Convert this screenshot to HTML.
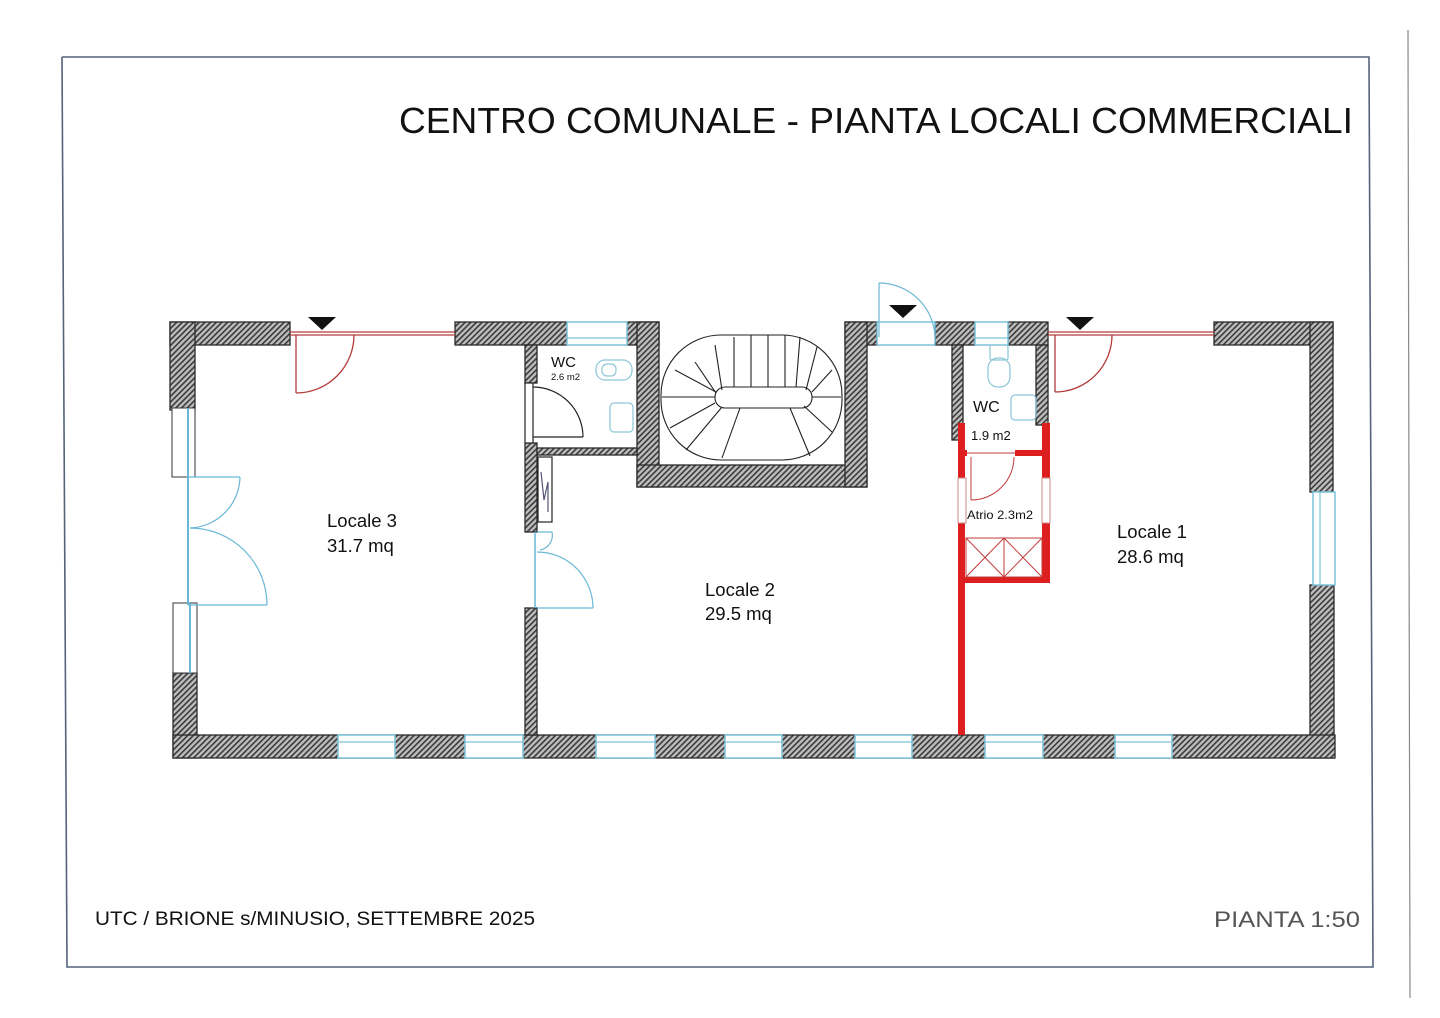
<!DOCTYPE html>
<html><head><meta charset="utf-8"><style>html,body{margin:0;padding:0;background:#fff;}svg{display:block}</style></head>
<body>
<svg width="1440" height="1018" viewBox="0 0 1440 1018" xmlns="http://www.w3.org/2000/svg" font-family="Liberation Sans, sans-serif">
<defs>
<pattern id="h" width="4" height="4" patternUnits="userSpaceOnUse" patternTransform="rotate(45)">
<rect width="4" height="4" fill="#bdbdbd"/><rect width="1.6" height="4" fill="#3a3a3a"/>
</pattern>
</defs>
<rect width="1440" height="1018" fill="#fff"/>
<!-- frame -->
<polyline points="62,57 1369,57 1373,967 67,967 62,57" fill="none" stroke="#55627a" stroke-width="1.6"/>
<line x1="1408" y1="30" x2="1410" y2="998" stroke="#888" stroke-width="1.2"/>
<text x="399" y="133" font-size="36.5" fill="#111" textLength="954" lengthAdjust="spacingAndGlyphs">CENTRO COMUNALE - PIANTA LOCALI COMMERCIALI</text>

<g fill="url(#h)" stroke="#2a2a2a" stroke-width="1.3">
<!-- top walls -->
<rect x="170" y="322" width="120" height="23"/>
<rect x="455" y="322" width="112" height="23"/>
<rect x="627" y="322" width="32" height="23"/>
<rect x="845" y="322" width="32" height="23"/>
<rect x="935" y="322" width="40" height="23"/>
<rect x="1008" y="322" width="40" height="23"/>
<rect x="1214" y="322" width="119" height="23"/>
<!-- left wall -->
<rect x="170" y="322" width="25" height="88"/>
<rect x="173" y="673" width="24" height="85"/>
<!-- right wall -->
<rect x="1310" y="322" width="23" height="170"/>
<rect x="1310" y="585" width="24" height="173"/>
<!-- bottom wall -->
<rect x="173" y="735" width="1162" height="23"/>
<!-- stair enclosure -->
<rect x="637" y="322" width="22" height="165"/>
<rect x="637" y="465" width="230" height="22"/>
<rect x="845" y="322" width="22" height="165"/>
<!-- wc left -->
<rect x="525" y="345" width="12" height="38"/>
<rect x="525" y="443" width="12" height="89"/>
<rect x="525" y="608" width="12" height="127"/>
<rect x="537" y="448" width="100" height="7"/>
<!-- wc right -->
<rect x="952" y="345" width="11" height="95"/>
<rect x="1036" y="345" width="12" height="80"/>
</g>

<!-- bottom windows -->
<g fill="#fff" stroke="#7cc3dc" stroke-width="1.5">
<rect x="338" y="735" width="57" height="23"/><rect x="465" y="735" width="58" height="23"/>
<rect x="596" y="735" width="59" height="23"/><rect x="725" y="735" width="57" height="23"/>
<rect x="855" y="735" width="57" height="23"/><rect x="985" y="735" width="58" height="23"/>
<rect x="1115" y="735" width="57" height="23"/>
<rect x="567" y="322" width="60" height="23"/><rect x="975" y="322" width="33" height="23"/>
<rect x="1313" y="492" width="22" height="93"/>
</g>
<g stroke="#7cc3dc" stroke-width="1.2">
<line x1="338" y1="742" x2="395" y2="742"/><line x1="465" y1="742" x2="523" y2="742"/>
<line x1="596" y1="742" x2="655" y2="742"/><line x1="725" y1="742" x2="782" y2="742"/>
<line x1="855" y1="742" x2="912" y2="742"/><line x1="985" y1="742" x2="1043" y2="742"/>
<line x1="1115" y1="742" x2="1172" y2="742"/>
<line x1="567" y1="338" x2="627" y2="338"/><line x1="975" y1="338" x2="1008" y2="338"/>
<line x1="1320" y1="492" x2="1320" y2="585"/>
</g>
<!-- left windows -->
<rect x="172" y="408" width="23" height="69" fill="#fff" stroke="#333" stroke-width="1"/>
<rect x="173" y="603" width="24" height="70" fill="#fff" stroke="#333" stroke-width="1"/>
<g stroke="#6bb8d6" stroke-width="2" fill="none">
<line x1="188" y1="408" x2="188" y2="477"/><line x1="190" y1="603" x2="190" y2="673"/>
<line x1="188" y1="477" x2="188" y2="605"/>
<line x1="188" y1="477" x2="240" y2="477" stroke-width="1.2"/>
<path d="M240,477 A52,52 0 0 1 190,528" stroke-width="1.2"/>
<line x1="188" y1="605" x2="267" y2="605" stroke-width="1.2"/>
<path d="M267,605 A77,77 0 0 0 190,528" stroke-width="1.2"/>
<!-- locale2 door -->
<line x1="535" y1="532" x2="535" y2="608" stroke-width="1.5"/>
<line x1="537" y1="608" x2="593" y2="608" stroke-width="1.2"/>
<path d="M593,608 A56,56 0 0 0 537,552" stroke-width="1.2"/>
<path d="M537,532 L552,532 A15,15 0 0 1 540,550" stroke-width="1.2"/>
<!-- entrance door -->
<rect x="877" y="322" width="58" height="23" fill="#fff" stroke-width="1.3"/>
<line x1="879" y1="337" x2="879" y2="283" stroke-width="1.2"/>
<path d="M879,283 A56,56 0 0 1 935,337" stroke-width="1.2"/>
</g>
<!-- red doors -->
<g stroke="#b33a3a" fill="none" stroke-width="1.3">
<line x1="290" y1="332" x2="455" y2="332"/><line x1="290" y1="335" x2="455" y2="335"/>
<line x1="1048" y1="332" x2="1214" y2="332"/><line x1="1048" y1="335" x2="1214" y2="335"/>
<line x1="296" y1="335" x2="296" y2="393"/><path d="M296,393 A58,58 0 0 0 354,335"/>
<line x1="1055" y1="335" x2="1055" y2="392"/><path d="M1055,392 A57,57 0 0 0 1112,335"/>
</g>
<g fill="#111"><polygon points="308,317 336,317 322,330"/><polygon points="1066,317 1094,317 1080,330"/><polygon points="889,305 917,305 903,318"/></g>
<!-- wc door left -->
<g stroke="#222" fill="none" stroke-width="1.2">
<line x1="533" y1="437" x2="583" y2="437"/><path d="M583,437 A50,50 0 0 0 533,387"/>
<rect x="525" y="383" width="8" height="60" fill="#fff"/>
<rect x="538" y="457" width="14" height="65" fill="#fff"/>
<polyline points="541,472 544,500 548,482 548,512" stroke="#557"/>
</g>
<!-- fixtures -->
<g stroke="#8cc6d8" fill="none" stroke-width="1.2">
<rect x="596" y="360" width="36" height="20" rx="9"/><rect x="602" y="364" width="14" height="12" rx="5"/>
<rect x="610" y="403" width="23" height="29" rx="4"/>
<rect x="990" y="345" width="18" height="15" rx="2"/><rect x="988" y="358" width="22" height="29" rx="10"/>
<rect x="1011" y="395" width="25" height="25" rx="4"/>
</g>
<!-- stairs -->
<g stroke="#222" fill="none" stroke-width="1.1">
<rect x="661" y="335" width="181" height="125" rx="60"/>
<rect x="715" y="387" width="97" height="21" rx="10"/>
<line x1="734" y1="337" x2="734" y2="387"/><line x1="751" y1="335" x2="751" y2="387"/><line x1="768" y1="335" x2="768" y2="387"/><line x1="785" y1="335" x2="785" y2="387"/><line x1="800" y1="337" x2="796" y2="387"/>
<line x1="715" y1="345" x2="722" y2="390"/><line x1="695" y1="362" x2="716" y2="393"/><line x1="662" y1="397" x2="715" y2="397"/><line x1="675" y1="370" x2="716" y2="392"/>
<line x1="812" y1="397" x2="841" y2="397"/><line x1="812" y1="392" x2="832" y2="370"/><line x1="806" y1="390" x2="817" y2="347"/>
<line x1="715" y1="403" x2="670" y2="428"/><line x1="722" y1="407" x2="686" y2="450"/><line x1="740" y1="408" x2="722" y2="458"/><line x1="790" y1="408" x2="810" y2="456"/><line x1="804" y1="406" x2="832" y2="432"/>
</g>
<!-- red atrio -->
<g fill="#dd1f1f">
<rect x="958" y="423" width="7" height="312"/>
<rect x="1042" y="423" width="8" height="160"/>
<rect x="958" y="450" width="9" height="6"/><rect x="1015" y="450" width="35" height="6"/>
<rect x="958" y="577" width="92" height="6"/>
</g>
<rect x="958" y="478" width="8" height="45" fill="#fff" stroke="#c88" stroke-width="1"/>
<rect x="1042" y="478" width="8" height="45" fill="#fff" stroke="#c88" stroke-width="1"/>
<g stroke="#c23b3b" fill="none" stroke-width="1">
<line x1="967" y1="453" x2="1015" y2="453"/>
<line x1="971" y1="457" x2="971" y2="500"/><path d="M971,500 A43,43 0 0 0 1014,457"/>
<rect x="966" y="538" width="76" height="39"/><line x1="1004" y1="538" x2="1004" y2="577"/>
<line x1="966" y1="538" x2="1004" y2="577"/><line x1="1004" y1="538" x2="966" y2="577"/>
<line x1="1004" y1="538" x2="1042" y2="577"/><line x1="1042" y1="538" x2="1004" y2="577"/>
</g>
<!-- labels -->
<g fill="#111">
<text x="327" y="527" font-size="18.5">Locale 3</text><text x="327" y="552" font-size="18.5">31.7 mq</text>
<text x="705" y="596" font-size="18.5">Locale 2</text><text x="705" y="620" font-size="18.5">29.5 mq</text>
<text x="1117" y="538" font-size="18.5">Locale 1</text><text x="1117" y="563" font-size="18.5">28.6 mq</text>
<text x="551" y="367" font-size="15">WC</text><text x="551" y="380" font-size="9.5">2.6  m2</text>
<text x="973" y="412" font-size="16">WC</text><text x="971" y="440" font-size="13">1.9  m2</text>
<text x="967" y="519" font-size="12" textLength="66" lengthAdjust="spacingAndGlyphs">Atrio 2.3m2</text>
<text x="95" y="925" font-size="19" textLength="440" lengthAdjust="spacingAndGlyphs">UTC / BRIONE s/MINUSIO, SETTEMBRE 2025</text>
<text x="1214" y="927" font-size="22" fill="#555" textLength="146" lengthAdjust="spacingAndGlyphs">PIANTA  1:50</text>
</g>
</svg>
</body></html>
